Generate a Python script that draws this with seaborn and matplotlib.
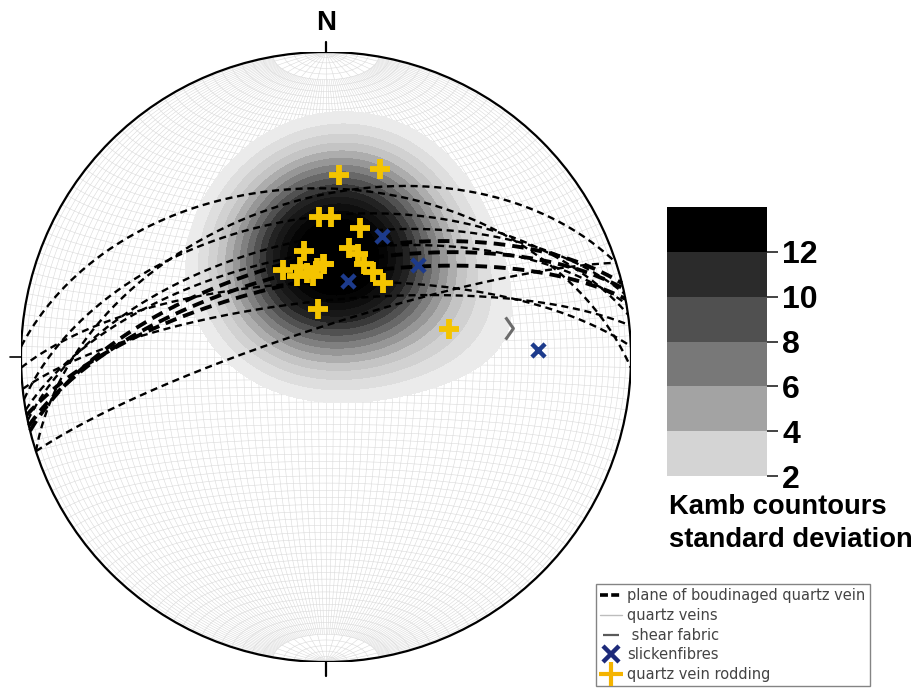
import numpy as np
import pandas as pd
import matplotlib
matplotlib.use("Agg")
import matplotlib.pyplot as plt
import seaborn as sns
from matplotlib.colors import ListedColormap, BoundaryNorm, LinearSegmentedColormap
from matplotlib.lines import Line2D
from matplotlib.path import Path
import matplotlib.cm as cm

sns.set_theme(style="white")
plt.rcParams["font.family"] = ["Liberation Sans", "DejaVu Sans"]
plt.rcParams["text.color"] = "black"
plt.rcParams["ytick.labelcolor"] = "black"

# ---------------- data (trend / plunge in degrees, planes as strike(RHR) / dip) ----------------
rod_trend = [4, 16, 357, 2, 15, 12, 17, 22, 29, 38, 348, 334, 347, 354, 359, 351, 351, 77, 344, 358, 340]
rod_plunge = [40, 36, 52, 52, 54, 60, 61, 63, 64, 65, 61, 64, 67, 66, 65, 68, 77, 56, 65, 65, 67]
slick_trend = [25, 45, 16, 88]
slick_plunge = [54, 55, 69, 31]
vein_strike = [272, 252, 262, 258, 260, 268, 252, 264]
vein_dip = [44, 47, 52, 58, 62, 70, 82, 75]
boud_strike = [256, 257, 259]
boud_dip = [63, 66, 69]
shear_trend = [81]
shear_plunge = [39]
cbar_ticks = [2, 4, 6, 8, 10, 12]
cbar_colors = ["#d4d4d4", "#a3a3a3", "#787878", "#505050", "#2b2b2b", "#000000"]


# ---------------- projection helpers (lower hemisphere, equal area) ----------------
def vec_from_line(trend, plunge):
    t = np.radians(np.asarray(trend, float))
    p = np.radians(np.asarray(plunge, float))
    return np.cos(p) * np.sin(t), np.cos(p) * np.cos(t), np.sin(p)


def project(e, n, d):
    e, n, d = np.asarray(e, float), np.asarray(n, float), np.asarray(d, float)
    s = np.sign(d)
    s[s == 0] = 1
    e, n, d = e * s, n * s, d * s
    k = 1.0 / np.sqrt(1.0 + d)
    return e * k, n * k


def great_circle(strike, dip, a0=0.0, a1=180.0, num=181):
    s = np.radians(strike)
    dp = np.radians(dip)
    a = np.radians(np.linspace(a0, a1, num))
    sv = np.array([np.sin(s), np.cos(s), 0.0])
    dv = np.array([np.cos(dp) * np.sin(s + np.pi / 2), np.cos(dp) * np.cos(s + np.pi / 2), np.sin(dp)])
    pts = np.outer(np.cos(a), sv) + np.outer(np.sin(a), dv)
    return project(pts[:, 0], pts[:, 1], pts[:, 2])


# ---------------- figure ----------------
W, H = 922, 696
fig = plt.figure(figsize=(W / 100, H / 100), dpi=100)
fig.patch.set_facecolor("white")
ax = fig.add_axes([21 / W, 34 / H, 610 / W, 610 / H])
ax.set_xlim(-1, 1)
ax.set_ylim(-1, 1)
ax.set_aspect("equal")
ax.axis("off")

circ = plt.Circle((0, 0), 1, transform=ax.transData)

# grid (Schmidt net, 2 deg)
grid_kw = dict(color="#dadada", lw=0.4, zorder=1)
for d in range(2, 90, 2):
    major = d % 10 == 0
    lo, hi = (0, 180) if major else (10, 170)
    for st in (0, 180):
        x, y = great_circle(st, d, lo, hi, 91)
        ax.plot(x, y, **grid_kw)
x, y = great_circle(0, 90, 0, 180, 3)
ax.plot(x, y, **grid_kw)
for b in range(2, 179, 2):
    br = np.radians(b)
    phi = np.linspace(0, np.pi, 121)
    e = np.sin(br) * np.cos(phi)
    n = np.full_like(phi, np.cos(br))
    dd = np.sin(br) * np.sin(phi)
    x, y = project(e, n, dd)
    ax.plot(x, y, **grid_kw)

# ---------------- Kamb (exponential) density of lineations ----------------
te = np.r_[rod_trend, slick_trend]
pl = np.r_[rod_plunge, slick_plunge]
de, dn, dd_ = vec_from_line(te, pl)
data = np.c_[de, dn, dd_]
g = np.linspace(-1, 1, 301)
GX, GY = np.meshgrid(g, g)
R2 = GX ** 2 + GY ** 2
inside = R2 <= 1.0
Dz = np.clip(1 - R2, 0, 1)
Ge = GX * np.sqrt(1 + Dz)
Gn = GY * np.sqrt(1 + Dz)
gv = np.c_[Ge.ravel(), Gn.ravel(), Dz.ravel()]
nn = float(len(data))
sigma = 2.4
f = 2 * (1.0 + nn / sigma ** 2)
units = np.sqrt(nn * (f / 2.0 - 1) / f ** 2)
cosd = np.abs(gv @ data.T)
dens = (np.exp(f * (cosd - 1)).sum(axis=1) - 0.5) / units
dens = dens.reshape(GX.shape)
dens[~inside] = np.nan

levels = np.arange(2, 17, 1)
cmap_plot = LinearSegmentedColormap.from_list("kamb", ["#f1f1f1", "#c4c4c4", "#747474", "#222222", "#000000"])
cf = ax.contourf(GX, GY, dens, levels=levels, cmap=cmap_plot, zorder=2, extend="max")
cf.set_clip_path(circ)

# ---------------- great circles ----------------
for s, d in zip(vein_strike, vein_dip):
    x, y = great_circle(s, d)
    ax.plot(x, y, color="black", lw=1.7, ls=(0, (3, 2)), zorder=4, dash_capstyle="butt")
for s, d in zip(boud_strike, boud_dip):
    x, y = great_circle(s, d)
    ax.plot(x, y, color="black", lw=2.8, ls=(0, (3, 1.8)), zorder=4, dash_capstyle="butt")

# primitive circle
ax.add_patch(plt.Circle((0, 0), 1, fill=False, ec="black", lw=1.6, zorder=6))
# ticks N, S, W
ax.plot([0, 0], [1, 1.034], color="black", lw=1.6, clip_on=False)
ax.plot([0, 0], [-1, -1.046], color="black", lw=1.6, clip_on=False)
ax.plot([-1, -1.036], [0, 0], color="black", lw=1.2, clip_on=False)
ax.text(0, 1.052, "N", ha="center", va="bottom", fontsize=20, fontweight="bold", color="black", clip_on=False)

# ---------------- lineations ----------------
rx, ry = project(*vec_from_line(rod_trend, rod_plunge))
sx, sy = project(*vec_from_line(slick_trend, slick_plunge))
df_rod = pd.DataFrame({"x": rx, "y": ry})
df_sl = pd.DataFrame({"x": sx, "y": sy})
sns.scatterplot(data=df_sl, x="x", y="y", marker="x", s=90, color="#1d3b8c", linewidth=3.2, ax=ax, zorder=7)
sns.scatterplot(data=df_rod, x="x", y="y", marker="+", s=210, color="#f4c400", linewidth=4.2, ax=ax, zorder=8)

# shear fabric
hx, hy = project(*vec_from_line(shear_trend, shear_plunge))
chev = Path([(-0.35, 1.0), (0.35, 0.0), (-0.35, -1.0)], [Path.MOVETO, Path.LINETO, Path.LINETO])
ax.plot(hx, hy, marker=chev, ms=16, mec="#6b6b6b", mfc="none", mew=2.2, ls="none", zorder=7)
ax.set_xlabel("")
ax.set_ylabel("")

# ---------------- colourbar ----------------
cax = fig.add_axes([667 / W, (H - 476) / H, 100 / W, 269 / H])
bounds = cbar_ticks + [14]
cm_bar = ListedColormap(cbar_colors)
norm = BoundaryNorm(bounds, cm_bar.N)
cb = fig.colorbar(cm.ScalarMappable(norm=norm, cmap=cm_bar), cax=cax, ticks=cbar_ticks)
cb.outline.set_visible(False)
cax.minorticks_off()
cax.tick_params(axis="y", which="minor", length=0)
cax.tick_params(axis="y", length=8, width=1.2, color="#222222", pad=3, right=True, left=False,
                labelcolor="black")
for lab in cax.get_yticklabels():
    lab.set_family(["Liberation Sans Narrow", "Liberation Sans", "DejaVu Sans"])
    lab.set_fontweight("bold")
    lab.set_fontsize(23)

fig.text(669 / W, 1 - 507 / H, "Kamb countours", fontsize=19.7, fontweight="bold", va="center", ha="left",
         color="black")
fig.text(669 / W, 1 - 540 / H, "standard deviation", fontsize=19.7, fontweight="bold", va="center", ha="left",
         color="black")

# ---------------- legend ----------------
handles = [
    Line2D([], [], color="black", lw=2.6, ls=(0, (2.2, 0.9))),
    Line2D([], [], color="#bdbdbd", lw=1.0),
    Line2D([], [], color="#5a5a5a", lw=0, marker="_", ms=11, mew=1.6),
    Line2D([], [], color="#1d2a7a", lw=0, marker="x", ms=11, mew=3.2),
    Line2D([], [], color="#f5b400", lw=0, marker="+", ms=17, mew=3.0),
]
labels = ["plane of boudinaged quartz vein", "quartz veins", " shear fabric", "slickenfibres", "quartz vein rodding"]
leg = fig.legend(handles, labels, loc="upper left", bbox_to_anchor=(596 / W, 1 - 584 / H),
                 frameon=True, fancybox=False, edgecolor="#666666", fontsize=10.5, handlelength=1.5,
                 handletextpad=0.35, labelspacing=0.32, borderpad=0.3, borderaxespad=0,
                 prop={"family": ["DejaVu Sans"], "size": 10.5})
leg.get_frame().set_linewidth(1.0)
for t in leg.get_texts():
    t.set_color("#444444")

fig.savefig("out.png", dpi=100, facecolor="white")
